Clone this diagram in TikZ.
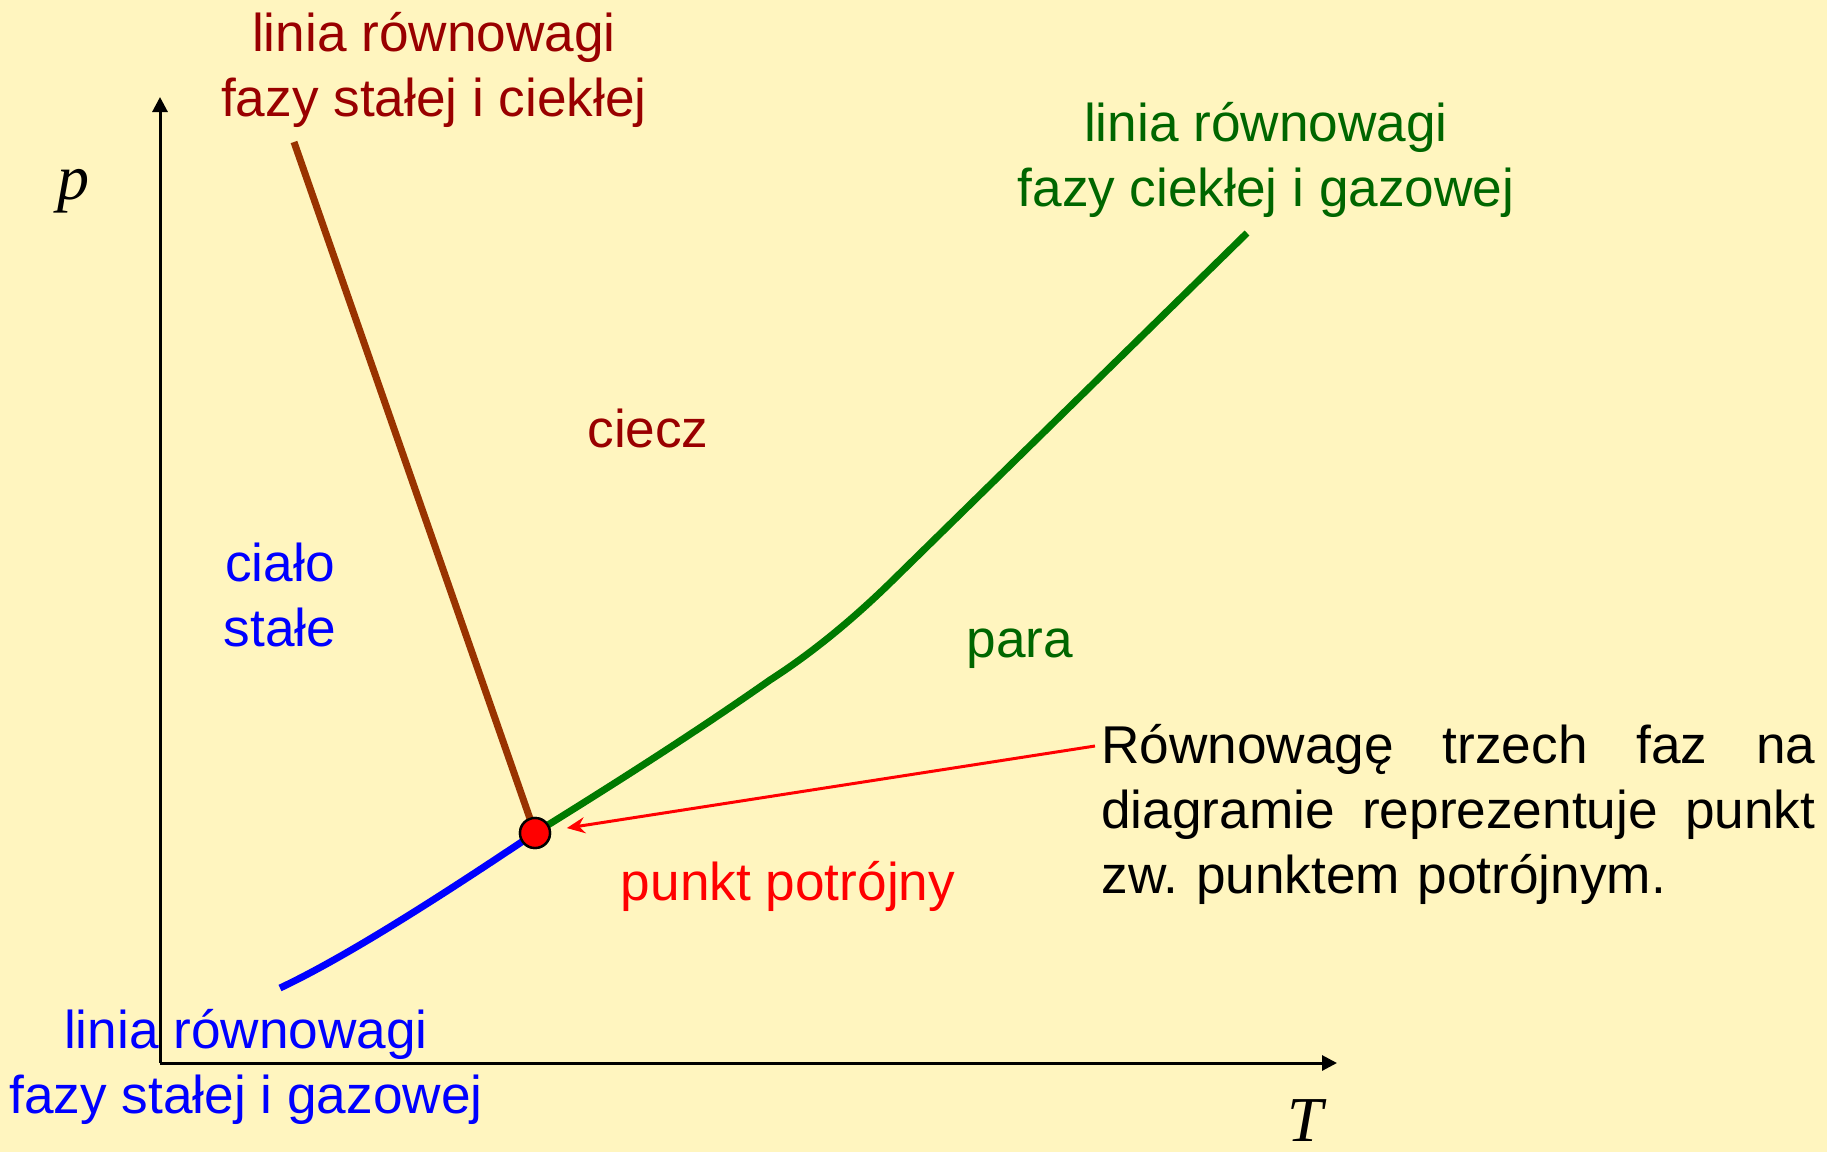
\documentclass[tikz,border=0pt]{standalone}
\usepackage{fontspec}
\setmainfont{Liberation Sans}
\newfontfamily\axisfont{Liberation Serif}
\usetikzlibrary{arrows.meta,positioning,calc}
\definecolor{diagBack}{HTML}{FFF5BF}
\definecolor{diagMaroon}{HTML}{990000}
\definecolor{diagBrown}{HTML}{993300}
\definecolor{diagGreen}{HTML}{007A00}
\definecolor{diagGreenText}{HTML}{006600}
\definecolor{diagBlue}{HTML}{0000FF}
\definecolor{diagRed}{HTML}{FF0000}

\begin{document}
\begin{tikzpicture}[x=0.5pt, y=-0.5pt,
        txt/.style={font=\fontsize{26.6}{32.5}\selectfont, align=center, inner sep=0pt},
        axislabel/.style={font=\axisfont\itshape\fontsize{32}{38}\selectfont, inner sep=0pt},
        axis/.style={-{Triangle[length=7.5pt,width=7.5pt]}, line width=1.5pt},
        phaseline/.style={line width=3.5pt},
        pointer/.style={-{Stealth[length=9pt,width=8pt]}, draw=diagRed, line width=1.5pt, shorten >=8pt}
    ]
        \fill[diagBack] (0,0) rectangle (1827,1152);
        \useasboundingbox (0,0) rectangle (1827,1152);

        % axes
        \coordinate (origin) at (160,1063);
        \coordinate (ptop) at (160,97);
        \coordinate (tend) at (1337,1063);
        \draw[axis] (origin) -- (ptop);
        \draw[axis] (origin) -- (tend);
        \node[axislabel] (plabel) at (73,191) {p};
        \node[axislabel] (tlabel) at (1305,1121) {T};

        % phase lines
        \node[circle, fill=diagRed, draw=black, line width=1.2pt, minimum size=15pt, inner sep=0pt] (triple) at (535,833) {};
        \coordinate (meltend) at (294,142);
        \coordinate (vapend) at (1247,233);
        \coordinate (sublend) at (280,988);
        \draw[phaseline, diagBrown] (meltend) -- (triple.center);
        \draw[phaseline, diagGreen] (triple.center) .. controls (640,768) and (710,722) .. (770,680)
            .. controls (812,653) and (852,620) .. (890,583) -- (vapend);
        \draw[phaseline, diagBlue] (sublend) .. controls (350,955) and (450,890) .. (triple.center);
        \node[circle, fill=diagRed, draw=black, line width=1.2pt, minimum size=15pt, inner sep=0pt] at (triple) {};

        % labels
        \node[txt, text=diagMaroon] (meltlabel) at (434,70) {linia równowagi\\fazy stałej i ciekłej};
        \node[txt, text=diagGreenText] (vaplabel) at (1266,160) {linia równowagi\\fazy ciekłej i gazowej};
        \node[txt, text=diagBlue] (subllabel) at (246,1067) {linia równowagi\\fazy stałej i gazowej};
        \node[txt, text=diagMaroon] (liquid) at (648,428) {ciecz};
        \node[txt, text=diagBlue] (solid) at (280,595) {ciało\\stałe};
        \node[txt, text=diagGreenText] (vapour) at (1020,649) {para};
        \node[txt, text=diagRed] (triplelabel) at (788,886) {punkt potrójny};

        % note
        \node[txt, align=left, text width=357pt, anchor=north west] (note) at (1101,724)
            {\frenchspacing Równowagę\hfill trzech\hfill faz\hfill na\\diagramie\hfill reprezentuje\hfill punkt\\zw. punktem potrójnym.};
        \coordinate (notestart) at (1095,746);
        \draw[pointer] (notestart) -- (triple);
    \end{tikzpicture}
\end{document}
